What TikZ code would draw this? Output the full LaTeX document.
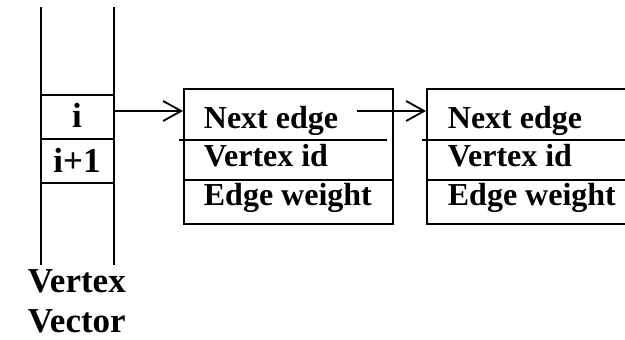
\documentclass[tikz,border=0pt]{standalone}
\usepackage{fontspec}
\setmainfont{Liberation Serif}
\usetikzlibrary{arrows.meta}
\begin{document}
\begin{tikzpicture}[x=1pt,y=-1pt,line width=1.8pt,
  link/.style={-{Straight Barb[length=18pt,width=20pt]}},
  cell/.style={font=\fontsize{35}{40}\selectfont\bfseries,anchor=base,inner sep=0pt},
  title/.style={font=\fontsize{35}{40}\selectfont\bfseries,anchor=base west,inner sep=0pt},
  field/.style={font=\fontsize{32}{38}\selectfont\bfseries,anchor=base west,inner sep=0pt},
  record/.style={draw,minimum height=135pt,inner sep=0pt,anchor=north west}]
\useasboundingbox (0,0) rectangle (625,340);
\clip (0,0) rectangle (625,340);

% vertex vector
\draw (41,7) -- (41,265);
\draw (114,7) -- (114,265);
\draw (40,95) -- (113,95);
\draw (40,139) -- (113,139);
\draw (40,183) -- (113,183);
\node[cell] (ci) at (77,127) {i};
\node[cell] (cinext) at (77,172) {i+1};
\node[title] (t1) at (27,292) {Vertex};
\node[title] (t2) at (27,332) {Vector};

% first edge record
\node[record,minimum width=209pt] (box1) at (183,88) {};
\draw (179,140) -- (387,140);
\draw (183,180) -- (392,180);
\node[field] (n1) at (203,128) {Next edge};
\node[field] (v1) at (203,166) {Vertex id};
\node[field] (w1) at (203,205) {Edge weight};

% second edge record
\node[record,minimum width=215pt] (box2) at (426,88) {};
\draw (422,140) -- (641,140);
\draw (426,180) -- (641,180);
\node[field] (n2) at (447,128) {Next edge};
\node[field] (v2) at (447,166) {Vertex id};
\node[field] (w2) at (447,205) {Edge weight};

% links
\coordinate (p1) at (114,111);
\draw[link] (p1) -- (p1 -| box1.west);
\coordinate (p2) at (357,111);
\draw[link] (p2) -- (p2 -| box2.west);
\end{tikzpicture}
\end{document}
